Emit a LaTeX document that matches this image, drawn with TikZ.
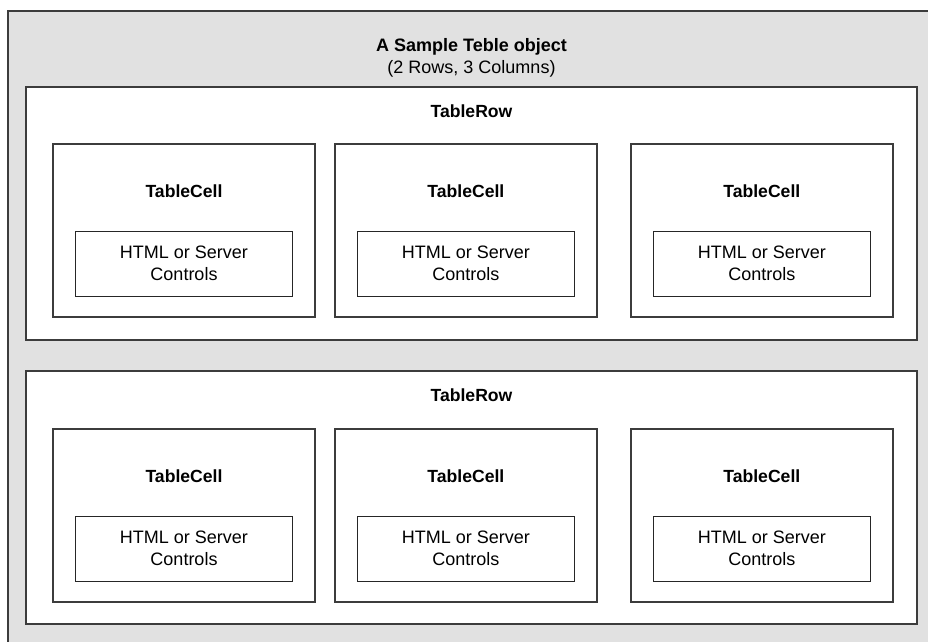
\documentclass[tikz,border=0pt]{standalone}
\usepackage{fontspec}
\setmainfont{Liberation Sans}
\usetikzlibrary{positioning,calc}
\definecolor{framegray}{RGB}{60,60,60}
\definecolor{backgray}{RGB}{225,225,225}

\begin{document}
\begin{tikzpicture}[x=1pt,y=-1pt,
  rowbox/.style={draw=framegray,line width=1.4pt,fill=white,inner sep=0pt,
                 minimum width=891pt,minimum height=253pt},
  cellbox/.style={draw=framegray,line width=1.4pt,fill=white,inner sep=0pt,
                  minimum width=262pt,minimum height=173pt},
  ctrlbox/.style={draw=black!85,line width=1.1pt,fill=white,inner sep=0pt,
                  minimum width=217pt,minimum height=65pt,align=center,
                  font=\fontsize{18}{22}\selectfont},
  heading/.style={font=\fontsize{17.6}{22}\selectfont\bfseries}
]
\useasboundingbox (0,0) rectangle (928,641);
\clip (0,0) rectangle (928,641);

% Table object
\draw[draw=framegray,line width=1.4pt,fill=backgray] (8,11) rectangle (950,670);
\node[align=center,font=\fontsize{18}{22}\selectfont] (title) at (471.5,58)
  {\textbf{A Sample Teble object}\\(2 Rows, 3 Columns)};

% Rows
\node[rowbox] (row1) at (471.5,213.5) {};
\node[rowbox,below=29.5pt of row1] (row2) {};
\node[heading] (row1lbl) at ($(row1.north)+(0,25)$) {TableRow};
\node[heading] (row2lbl) at ($(row2.north)+(0,25)$) {TableRow};

% Cells, first row
\node[cellbox] (c11) at (184,230.5) {};
\node[cellbox,right=18.5pt of c11] (c12) {};
\node[cellbox,right=32.5pt of c12] (c13) {};

% Cells, second row
\node[cellbox,below=110.5pt of c11] (c21) {};
\node[cellbox,right=18.5pt of c21] (c22) {};
\node[cellbox,right=32.5pt of c22] (c23) {};

% Cell contents
\node[heading] (c11lbl) at ($(c11.north)+(0,48)$) {TableCell};
\node[heading] (c12lbl) at ($(c12.north)+(0,48)$) {TableCell};
\node[heading] (c13lbl) at ($(c13.north)+(0,48)$) {TableCell};
\node[heading] (c21lbl) at ($(c21.north)+(0,48)$) {TableCell};
\node[heading] (c22lbl) at ($(c22.north)+(0,48)$) {TableCell};
\node[heading] (c23lbl) at ($(c23.north)+(0,48)$) {TableCell};

\node[ctrlbox,above=21pt of c11.south] (ctl11) {HTML or Server\\Controls};
\node[ctrlbox,above=21pt of c12.south] (ctl12) {HTML or Server\\Controls};
\node[ctrlbox,above=21pt of c13.south] (ctl13) {HTML or Server\\Controls};
\node[ctrlbox,above=21pt of c21.south] (ctl21) {HTML or Server\\Controls};
\node[ctrlbox,above=21pt of c22.south] (ctl22) {HTML or Server\\Controls};
\node[ctrlbox,above=21pt of c23.south] (ctl23) {HTML or Server\\Controls};
\end{tikzpicture}
\end{document}
